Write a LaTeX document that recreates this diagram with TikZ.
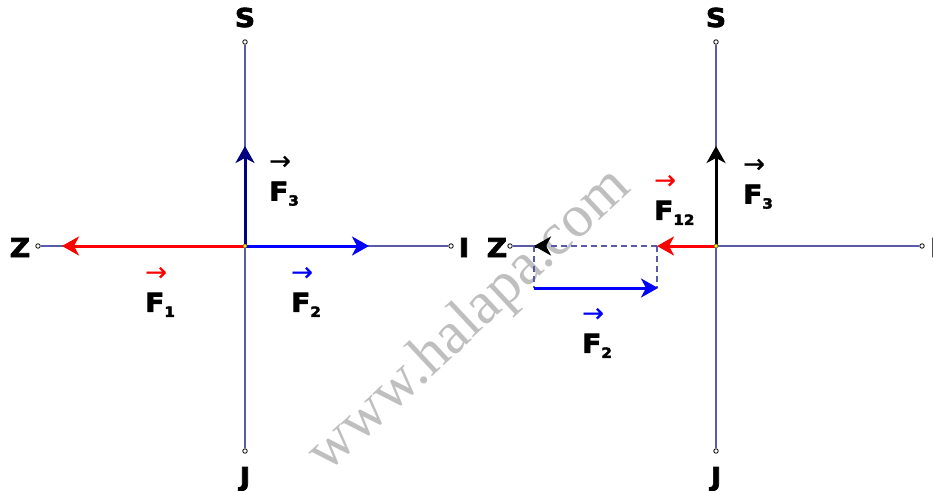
\documentclass[tikz,border=0pt]{standalone}
\usepackage{fontspec}
\setmainfont{DejaVu Sans}
\newfontfamily\markfont{Liberation Serif}
\newfontfamily\labfont{DejaVu Sans Bold}[FakeBold=2.8,FakeStretch=1.08]
\newfontfamily\arrowfont{DejaVu Sans}[FakeBold=0.4]
\usetikzlibrary{arrows.meta}
\definecolor{axiscolor}{HTML}{5A5AAA}
\definecolor{redforce}{HTML}{FF0000}
\definecolor{blueforce}{HTML}{0000FF}
\definecolor{navyforce}{HTML}{000080}
\definecolor{markgray}{HTML}{BFBFBF}
\tikzset{
  fv axis/.style={draw=axiscolor,line width=1.1pt},
  fv guide/.style={draw=axiscolor,line width=1.1pt,dash pattern=on 6pt off 4pt},
  fv end/.style={circle,draw=black,fill=white,line width=.8pt,inner sep=0pt,minimum size=4.5pt},
  fv origin/.style={circle,draw=black!70,fill=yellow,line width=.5pt,inner sep=0pt,minimum size=4pt},
  fv force/.style={line width=3pt,-{Stealth[length=17pt,width=19pt,inset=5pt]}},
  fv letter/.style={font=\labfont\fontsize{26}{26}\selectfont,inner sep=0pt,anchor=base},
  fv label/.style={align=left,inner sep=0pt,anchor=south west,font=\labfont\fontsize{26}{31}\selectfont}
}
\newcommand{\vecF}[1]{{\arrowfont →}\\F\raisebox{-5pt}{\fontsize{14}{14}\selectfont #1}}

\begin{document}
\begin{tikzpicture}[x=1pt,y=-1pt]
  \useasboundingbox (0,0) rectangle (933,490);
  \node[font=\markfont\fontsize{60}{60}\selectfont,text=markgray,rotate=43,anchor=base] (mark) at (480,332) {www.halapa.com};
  \coordinate (O1) at (245,246);
  \node[fv end] (S1) at (245,42) {};
  \node[fv end] (J1) at (245,451) {};
  \node[fv end] (Z1) at (38,246) {};
  \node[fv end] (I1) at (451,246) {};
  \draw[fv axis] (S1) -- (J1);
  \draw[fv axis] (Z1) -- (I1);
  \node[fv letter] (S1lab) at (245,27) {S};
  \node[fv letter] (J1lab) at (245,486) {J};
  \node[fv letter] (Z1lab) at (20,257) {Z};
  \node[fv letter] (I1lab) at (464,257) {I};
  \coordinate (F1tip) at (62,246);
  \coordinate (F2tip) at (369,246);
  \coordinate (F3tip) at (245,146);
  \draw[fv force,redforce] (O1) -- (F1tip);
  \draw[fv force,blueforce] (O1) -- (F2tip);
  \draw[fv force,navyforce] (O1) -- (F3tip);
  \node[fv origin] (O1dot) at (O1) {};
  \node[fv label] (F1lab) at (145,317) {\color{redforce}\vecF{1}};
  \node[fv label] (F2lab) at (291,317) {\color{blueforce}\vecF{2}};
  \node[fv label] (F3lab) at (269,206) {\vecF{3}};
  \coordinate (O2) at (716,246);
  \node[fv end] (S2) at (716,42) {};
  \node[fv end] (J2) at (716,451) {};
  \node[fv end] (Z2) at (510,246) {};
  \node[fv end] (I2) at (922,246) {};
  \coordinate (R) at (534,246);
  \coordinate (F12tip) at (657,246);
  \coordinate (F3rtip) at (716,146);
  \coordinate (P2a) at (534,288);
  \coordinate (P2b) at (658,288);
  \draw[fv axis] (S2) -- (J2);
  \draw[fv axis] (Z2) -- (R);
  \draw[fv axis] (O2) -- (I2);
  \node[fv letter] (S2lab) at (716,27) {S};
  \node[fv letter] (J2lab) at (716,486) {J};
  \node[fv letter] (Z2lab) at (497,257) {Z};
  \node[fv letter,anchor=base west] (I2lab) at (930,257) {I};
  \draw[fv guide] (F12tip) -- (R);
  \draw[fv guide] (R) -- (P2a);
  \draw[fv guide] (F12tip) -- (F12tip |- P2b);
  \draw[fv force,blueforce] (P2a) -- (P2b);
  \draw[fv force,black] (R) ++(1,0) -- (R);
  \draw[fv force,redforce] (O2) -- (F12tip);
  \draw[fv force,black] (O2) -- (F3rtip);
  \node[fv origin] (O2dot) at (O2) {};
  \node[fv label] (F12lab) at (654,225) {\color{redforce}\vecF{12}};
  \node[fv label] (F3rlab) at (743,209) {\vecF{3}};
  \node[fv label] (F2rlab) at (582,358) {\color{blueforce}\vecF{2}};
\end{tikzpicture}
\end{document}
